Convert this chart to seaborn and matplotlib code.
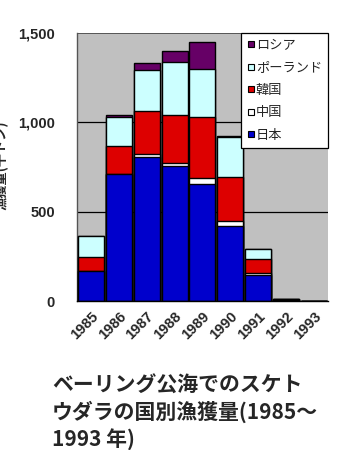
import numpy as np
import pandas as pd
import matplotlib
matplotlib.use("Agg")
import matplotlib.pyplot as plt
from matplotlib.lines import Line2D
from matplotlib.ticker import FuncFormatter, FixedLocator
import seaborn as sns

# Pollock catch in the Bering Sea "donut hole" by country (thousand tonnes)
years = ["1985", "1986", "1987", "1988", "1989", "1990", "1991", "1992", "1993"]
japan = [168, 708, 805, 753, 656, 418, 144, 6, 1]
china = [0, 3, 15, 19, 30, 28, 15, 1, 0]
korea = [80, 157, 243, 267, 343, 245, 78, 2, 1]
poland = [118, 162, 230, 299, 269, 226, 56, 1, 0]
russia = [0, 13, 37, 61, 152, 4, 0, 0, 0]

countries = ["日本", "中国", "韓国", "ポーランド", "ロシア"]
series = [japan, china, korea, poland, russia]
colors = ["#0000CC", "#FFFFFF", "#DD0000", "#CCFFFF", "#660066"]

sns.set_style("white")
plt.rcParams["font.family"] = ["Noto Sans CJK JP", "DejaVu Sans"]

fig = plt.figure(figsize=(3.42, 4.5), dpi=100)
ax = fig.add_axes([0.225, 0.331, 0.734, 0.596])
ax.set_facecolor("#C0C0C0")

# stacked bars: draw cumulative totals from the top layer down
cum = np.cumsum(np.array(series), axis=0)
for i in range(len(countries) - 1, -1, -1):
    df = pd.DataFrame({"year": years, "value": cum[i]})
    sns.barplot(data=df, x="year", y="value", color=colors[i], saturation=1,
                width=0.93, edgecolor="black", linewidth=1.0, ax=ax, zorder=3)

ax.set_ylim(0, 1500)
ax.set_xlim(-0.5, len(years) - 0.5)
ax.set_yticks([0, 500, 1000, 1500])
ax.yaxis.set_major_formatter(FuncFormatter(lambda v, p: f"{int(v):,}"))
for y in [500, 1000]:
    ax.axhline(y, color="black", lw=0.9, zorder=1)
ax.axhline(1500, color="#444444", lw=1.2, zorder=1)

for s in ["top", "right"]:
    ax.spines[s].set_visible(False)
ax.spines["left"].set_color("#555555")
ax.spines["left"].set_linewidth(1.0)
ax.spines["bottom"].set_color("black")
ax.spines["bottom"].set_linewidth(1.0)
ax.spines["bottom"].set_zorder(5)

ax.set_xlabel("")
ax.set_ylabel("")
ax.tick_params(axis="y", length=0, pad=16)
ax.tick_params(axis="x", which="major", length=0, pad=6)
ax.xaxis.set_minor_locator(FixedLocator(np.arange(-0.5, len(years), 1.0)))
ax.tick_params(axis="x", which="minor", length=4, width=1, color="black", direction="out")

for lab in ax.get_yticklabels():
    lab.set_fontfamily("Liberation Sans")
    lab.set_fontweight("bold")
    lab.set_fontsize(10.5)
ax.set_xticks(range(len(years)))
ax.set_xticklabels(years, rotation=45, ha="right", rotation_mode="anchor",
                   fontfamily="Liberation Sans", fontweight="bold", fontsize=10.5)

handles = [Line2D([], [], marker="s", linestyle="none", markersize=5,
                  markerfacecolor=colors[i], markeredgecolor="black",
                  markeredgewidth=0.8)
           for i in range(len(countries) - 1, -1, -1)]
labels = countries[::-1]
leg = ax.legend(handles, labels, loc="upper right", bbox_to_anchor=(1.0, 1.0),
                frameon=True, fancybox=False, framealpha=1, edgecolor="black",
                fontsize=9.5, handlelength=0.5, handletextpad=0.15,
                labelspacing=0.72, borderpad=0.45, borderaxespad=0.0)
leg.get_frame().set_linewidth(0.9)
leg.set_zorder(10)

fig.text(0.006, 0.633, "漁獲量(千トン)", rotation=90, ha="center", va="center",
         fontsize=9.5, fontweight="bold")

fig.text(0.152, 0.168, "ベーリング公海でのスケト\nウダラの国別漁獲量(1985～\n1993 年)",
         ha="left", va="top", fontsize=15, fontweight="bold", linespacing=1.3)

fig.savefig("out.png", dpi=100, facecolor="white")
